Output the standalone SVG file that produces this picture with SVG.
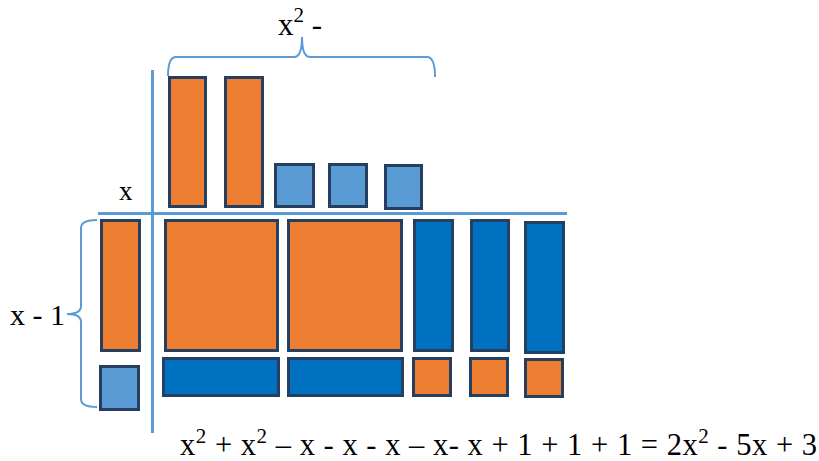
<svg xmlns="http://www.w3.org/2000/svg" width="819" height="461" viewBox="0 0 819 461">
<style>
.t{stroke:#243F60;stroke-width:3}
.or{fill:#ED7D31}
.lb{fill:#5B9BD5}
.db{fill:#0070C0}
.ax{stroke:#5B9BD5;stroke-width:3;fill:none}
.br{stroke:#5B9BD5;stroke-width:2;fill:none}
.tx{font-family:'Liberation Serif','DejaVu Serif',serif;fill:#000}
</style>
<rect width="819" height="461" fill="#fff"/>
<g id="connectors">
<line class="ax" x1="98" y1="213.5" x2="567" y2="213.5"/>
<line class="ax" x1="152.5" y1="70" x2="152.5" y2="433"/>
<path class="br" d="M168,76 Q168,57 176,57 L294,57 Q302,57 302,37 Q302,57 310,57 L427,57 Q435,57 435,77"/>
<path class="br" d="M97,220 Q81,220 81,228 L81,306 Q81,314 67,314 Q81,314 81,322 L81,399 Q81,407 97,407"/>
</g>
<g id="top-x1"><rect class="t or" x="169.5" y="77.5" width="36" height="129"/></g>
<g id="top-x2"><rect class="t or" x="225.5" y="77.5" width="37" height="129"/></g>
<g id="top-u1"><rect class="t lb" x="275.5" y="164.5" width="38" height="42"/></g>
<g id="top-u2"><rect class="t lb" x="329.5" y="164.5" width="37" height="42"/></g>
<g id="top-u3"><rect class="t lb" x="385.5" y="165.5" width="36" height="43"/></g>
<g id="left-x"><rect class="t or" x="101.5" y="220.5" width="38" height="130"/></g>
<g id="left-1"><rect class="t lb" x="100.5" y="366.5" width="38" height="43"/></g>
<g id="sq1"><rect class="t or" x="165.5" y="220.5" width="112" height="130"/></g>
<g id="sq2"><rect class="t or" x="288.5" y="220.5" width="113" height="130"/></g>
<g id="v1"><rect class="t db" x="414.5" y="220.5" width="38" height="130"/></g>
<g id="v2"><rect class="t db" x="471.5" y="220.5" width="37" height="130"/></g>
<g id="v3"><rect class="t db" x="525.5" y="222.5" width="38" height="130"/></g>
<g id="h1"><rect class="t db" x="163.5" y="358.5" width="115" height="37"/></g>
<g id="h2"><rect class="t db" x="288.5" y="358.5" width="114" height="37"/></g>
<g id="o1"><rect class="t or" x="413.5" y="358.5" width="37" height="37"/></g>
<g id="o2"><rect class="t or" x="470.5" y="358.5" width="37" height="37"/></g>
<g id="o3"><rect class="t or" x="525.5" y="359.5" width="37" height="37"/></g>
<g id="labels">
<text class="tx" font-family="Liberation Serif, serif" x="119" y="200" font-size="27">x</text>
<text class="tx" font-family="Liberation Serif, serif" x="10" y="325" font-size="30">x - 1</text>
<text class="tx" font-family="Liberation Serif, serif" x="278" y="35" font-size="31">x<tspan font-size="21" dy="-13">2</tspan><tspan dy="13"> -</tspan></text>
<text class="tx" font-family="Liberation Serif, serif" x="180" y="455" font-size="30.5" textLength="637" lengthAdjust="spacing">x<tspan font-size="21" dy="-12">2</tspan><tspan dy="12"> + x</tspan><tspan font-size="21" dy="-12">2</tspan><tspan dy="12"> – x - x - x – x- x + 1 + 1 + 1 = 2x</tspan><tspan font-size="21" dy="-12">2</tspan><tspan dy="12"> - 5x + 3</tspan></text>
</g>
</svg>
